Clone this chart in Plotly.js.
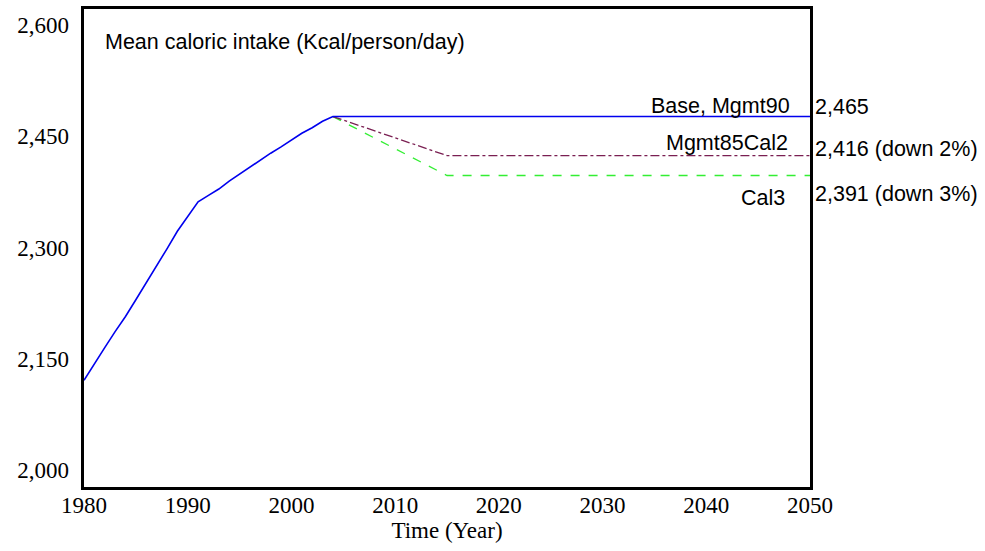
<!DOCTYPE html>
<html><head><meta charset="utf-8">
<script src="https://cdn.plot.ly/plotly-3.0.1.min.js"></script>
<style>body{margin:0;padding:0;background:#fff}#chart{width:985px;height:551px}</style>
</head><body><div id="chart"></div>
<script>
// Historical years and mean caloric intake (shared by all runs up to 2004)
const histYears = [1980,1981,1982,1983,1984,1985,1986,1987,1988,1989,1990,1991,1992,1993,1994,1995,1996,1997,1998,1999,2000,2001,2002,2003,2004];
const histValues = [2134,2155,2175,2195,2214,2235,2256,2277,2299,2321,2340,2358,2366,2374,2384,2393,2402,2410,2419,2427,2436,2444,2451,2459,2465];
// Scenario projections
const baseYears = [2004, 2050];
const baseValues = [2465, 2465];
const mgmt85Years = [2004, 2015, 2050];
const mgmt85Values = [2465, 2416, 2416];
const cal3Years = [2004, 2015, 2050];
const cal3Values = [2465, 2391, 2391];
const seriesNames = ["Base, Mgmt90", "Mgmt85Cal2", "Cal3"];
const endNotes = ["", " (down 2%)", " (down 3%)"];
const xTicks = [1980,1990,2000,2010,2020,2030,2040,2050];
const yTicks = [2000,2150,2300,2450,2600];
const yTickText = ["2,000","2,150","2,300","2,450","2,600"];

const fmt = v => v.toLocaleString("en-US");
const serif = "Liberation Serif, Times New Roman, serif";

const traces = [
  {x: cal3Years, y: cal3Values, mode:"lines", line:{color:"#33ee33", width:1.3, dash:"dash"}, name: seriesNames[2]},
  {x: mgmt85Years, y: mgmt85Values, mode:"lines", line:{color:"#7a1f52", width:1.3, dash:"dashdot"}, name: seriesNames[1]},
  {x: histYears.concat(baseYears.slice(1)), y: histValues.concat(baseValues.slice(1)), mode:"lines", line:{color:"#0000ee", width:1.6}, name: seriesNames[0]},
  // invisible trace to activate the label axis
  {x: [xTicks[0]], y: [yTicks[0]], yaxis:"y2", mode:"markers", marker:{opacity:0}, hoverinfo:"skip"}
];

const finals = [baseValues[baseValues.length-1], mgmt85Values[mgmt85Values.length-1], cal3Values[cal3Values.length-1]];
const nameShift = [11, 13, -22];
const nameX = [-18, -20, -23];
const valShift = [10, 7, -18];
const annFont = {family:"Liberation Sans, Arial, sans-serif", size:21.5, color:"#000"};
const annotations = [];
finals.forEach((v,i)=>{
  annotations.push({x:2050, y:v, xref:"x", yref:"y", text:seriesNames[i], showarrow:false, xanchor:"right", yanchor:"middle", xshift:nameX[i], yshift:nameShift[i], font:annFont});
  annotations.push({x:1, y:v, xref:"paper", yref:"y", text:fmt(v)+endNotes[i], showarrow:false, xanchor:"left", yanchor:"middle", xshift:3, yshift:valShift[i], font:annFont});
});
annotations.push({x:0, y:1, xref:"paper", yref:"paper", text:"Mean caloric intake (Kcal/person/day)", showarrow:false, xanchor:"left", yanchor:"middle", xshift:19, yshift:-33, font:annFont});

const layout = {
  width:985, height:551,
  margin:{l:84, r:175, t:9, b:64},
  paper_bgcolor:"#fff", plot_bgcolor:"#fff",
  showlegend:false,
  xaxis:{range:[1980,2050], tickvals:xTicks, ticktext:xTicks.map(String), showgrid:false, zeroline:false,
    showline:true, linecolor:"#000", linewidth:3, mirror:true, ticks:"", ticklabelstandoff:-5,
    tickfont:{family:serif, size:23, color:"#000"},
    title:{text:"Time (Year)", font:{family:serif, size:23, color:"#000"}, standoff:4}},
  yaxis:{range:[2000,2600], tickvals:yTicks, showticklabels:false, showgrid:false, zeroline:false,
    showline:true, linecolor:"#000", linewidth:3, mirror:true, ticks:""},
  yaxis2:{overlaying:"y", side:"left", anchor:"x", range:[1977.08,2621.6], tickvals:yTicks, ticktext:yTickText,
    showgrid:false, zeroline:false, showline:false, ticks:"", ticklabelstandoff:14,
    tickfont:{family:serif, size:23, color:"#000"}},
  annotations: annotations
};
Plotly.newPlot("chart", traces, layout, {displayModeBar:false, staticPlot:true});
</script></body></html>
